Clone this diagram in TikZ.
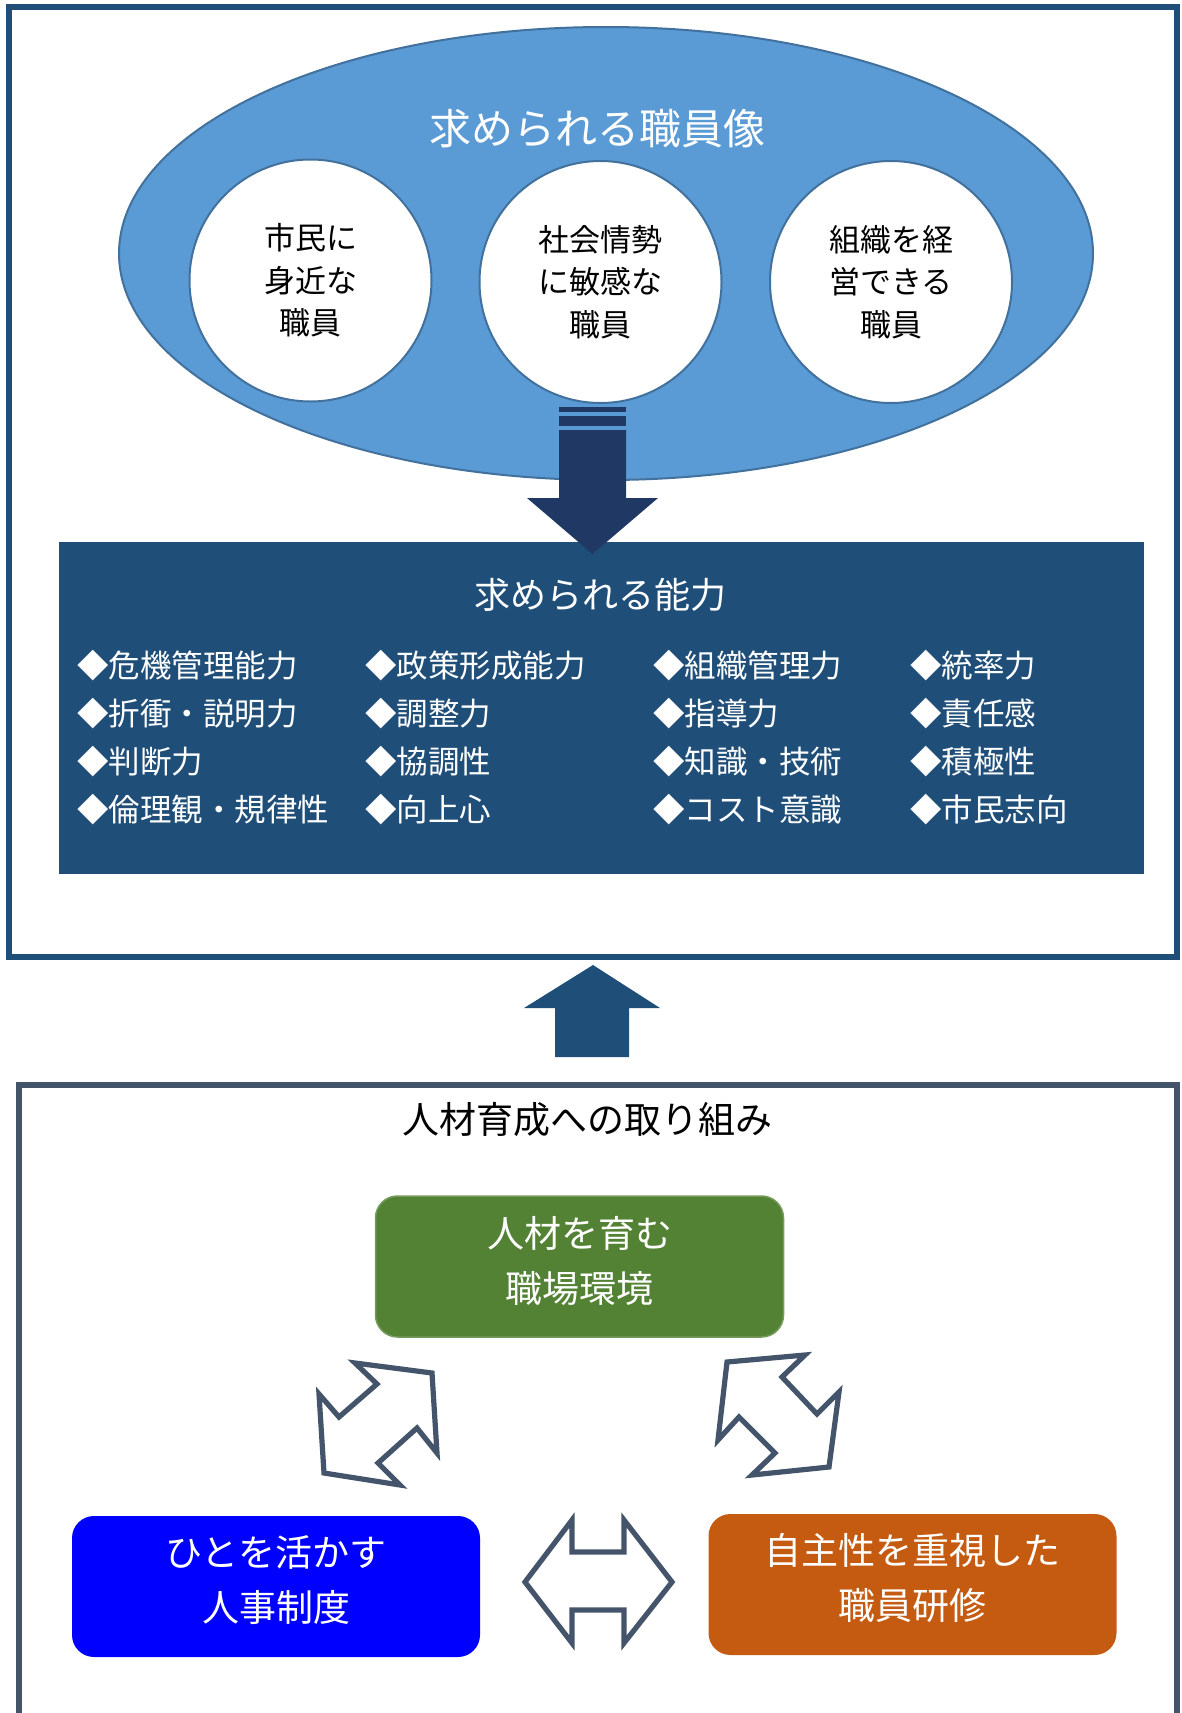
\documentclass[tikz,border=0pt]{standalone}
\usepackage{fontspec}
\setmainfont{Noto Sans CJK JP}
\usetikzlibrary{shapes.geometric}
\definecolor{frameblue}{HTML}{1F4E79}
\definecolor{ellfill}{HTML}{5B9BD5}
\definecolor{ellline}{HTML}{41719C}
\definecolor{navyarrow}{HTML}{203864}
\definecolor{slate}{HTML}{44546A}
\definecolor{grnbox}{HTML}{548235}
\definecolor{orngbox}{HTML}{C55A11}
\definecolor{bluebox}{HTML}{0000FF}
\tikzset{
  frame/.style={line width=3pt},
  personcircle/.style={circle, draw=ellline, line width=1pt, fill=white, minimum size=121pt, inner sep=0pt,
     align=center, font=\fontsize{15.5pt}{21.25pt}\selectfont},
  ability/.style={anchor=west, text=white, inner sep=0pt, text height=0.88em, text depth=0.12em,
     font=\fontsize{15.75pt}{19pt}\selectfont},
  policybox/.style={rounded corners=11pt, minimum width=204pt, minimum height=70.5pt, inner sep=0pt},
  policytext/.style={text=white, align=center, inner sep=0pt, font=\fontsize{18.5pt}{27.5pt}\selectfont},
  blockarrow/.style={fill=white, draw=slate, line width=2.6pt, line join=miter},
}
\begin{document}
\begin{tikzpicture}[x=0.5pt, y=-0.5pt]
\useasboundingbox (0,0) rectangle (1182,1713);
\fill[white] (0,0) rectangle (1182,1713);

% top frame
\draw[frame, draw=frameblue] (9,7) rectangle (1177,957);

% big ellipse
\node (ell) [ellipse, fill=ellfill, draw=ellline, line width=1pt, minimum width=487pt, minimum height=226.5pt, inner sep=0pt] at (606,253.5) {};
\node (elltitle) [text=white, font=\fontsize{21pt}{25pt}\selectfont, inner sep=0pt] at (597,129) {求められる職員像};

% circles
\node (c1) [personcircle] at (310.5,280.5) {市民に\\身近な\\職員};
\node (c2) [personcircle] at (600.5,282) {社会情勢\\に敏感な\\職員};
\node (c3) [personcircle] at (891,282) {組織を経\\営できる\\職員};

% abilities box
\node (abil) [fill=frameblue, minimum width=542.5pt, minimum height=166pt, inner sep=0pt] at (601.5,708) {};
\node (abiltitle) [text=white, font=\fontsize{18pt}{22pt}\selectfont, inner sep=0pt] at (600,595) {求められる能力};

% down arrow (drawn over the box)
\fill[navyarrow] (559,407) rectangle (626,412);
\fill[navyarrow] (559,416) rectangle (626,426);
\fill[navyarrow] (559,430) -- (626,430) -- (626,498) -- (658,498) -- (592.5,554) -- (527,498) -- (559,498) -- cycle;

% ability items
\node (a11) [ability] at (77,670) {◆危機管理能力};
\node (a12) [ability] at (365,670) {◆政策形成能力};
\node (a13) [ability] at (653,670) {◆組織管理力};
\node (a14) [ability] at (910,670) {◆統率力};
\node (a21) [ability] at (77,718) {◆折衝・説明力};
\node (a22) [ability] at (365,718) {◆調整力};
\node (a23) [ability] at (653,718) {◆指導力};
\node (a24) [ability] at (910,718) {◆責任感};
\node (a31) [ability] at (77,766) {◆判断力};
\node (a32) [ability] at (365,766) {◆協調性};
\node (a33) [ability] at (653,766) {◆知識・技術};
\node (a34) [ability] at (910,766) {◆積極性};
\node (a41) [ability] at (77,814) {◆倫理観・規律性};
\node (a42) [ability] at (365,814) {◆向上心};
\node (a43) [ability] at (653,814) {◆コスト意識};
\node (a44) [ability] at (910,814) {◆市民志向};

% up arrow
\fill[frameblue] (593,965) -- (660,1008) -- (629,1008) -- (629,1057) -- (555,1057) -- (555,1008) -- (524,1008) -- cycle;

% bottom frame (runs off the bottom edge)
\draw[frame, draw=slate, line join=miter] (19,1720) -- (19,1085) -- (1177,1085) -- (1177,1720);
\node (bottitle) [text=black, font=\fontsize{18.5pt}{22pt}\selectfont, inner sep=0pt] at (587,1120) {人材育成への取り組み};

% policy boxes
\node (env) [policybox, fill=grnbox, draw=grnbox!80!white, line width=0.75pt] at (579.5,1266.5) {};
\node (envtext) [policytext] at (579.5,1261) {人材を育む\\職場環境};
\node (hr) [policybox, fill=bluebox] at (276,1586.5) {};
\node (hrtext) [policytext] at (276,1580) {ひとを活かす\\人事制度};
\node (train) [policybox, fill=orngbox] at (912.5,1584.5) {};
\node (traintext) [policytext] at (912.5,1578) {自主性を重視した\\職員研修};

% double block arrows
\draw[blockarrow] (355,1363) -- (432,1373) -- (437,1453) -- (417,1428) -- (378,1463) -- (400,1485)
   -- (324,1473) -- (319,1394) -- (339,1417) -- (377,1384) -- cycle;
\draw[blockarrow] (727,1362) -- (805,1355) -- (782,1377) -- (817,1414) -- (839,1392) -- (829,1467)
   -- (752,1475) -- (775,1453) -- (739,1417) -- (718,1440) -- cycle;
\draw[blockarrow] (525,1582) -- (572,1520) -- (572,1552) -- (624,1552) -- (624,1520) -- (672,1582)
   -- (624,1643) -- (624,1610) -- (572,1610) -- (572,1643) -- cycle;
\end{tikzpicture}
\end{document}
